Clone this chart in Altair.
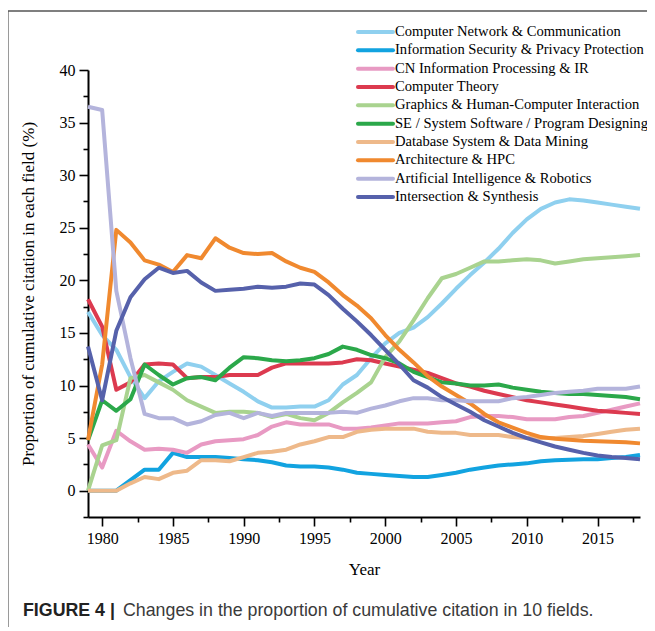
import altair as alt
import pandas as pd

years = list(range(1979, 2019))

fields = [
    "Computer Network & Communication",
    "Information Security & Privacy Protection",
    "CN Information Processing & IR",
    "Computer Theory",
    "Graphics & Human-Computer Interaction",
    "SE / System Software / Program Designing",
    "Database System & Data Mining",
    "Architecture & HPC",
    "Artificial Intelligence & Robotics",
    "Intersection & Synthesis",
]
colors = ["#8fd0ef", "#12a3e0", "#e89ac3", "#dc3a4f", "#a9d38f",
          "#2ba84a", "#eeb98a", "#f0892f", "#b4b4dc", "#5661ab"]

net = [17.0, 14.8, 13.4, 10.8, 8.8, 10.4, 11.3, 12.1, 11.8, 11.0, 10.2, 9.4, 8.5, 7.9, 7.9, 8.0, 8.0, 8.6, 10.1, 11.0,
       12.6, 14.0, 15.0, 15.5, 16.5, 17.8, 19.2, 20.5, 21.7, 23.0, 24.5, 25.8, 26.8, 27.4, 27.7, 27.6, 27.4, 27.2, 27.0, 26.8]
sec = [0, 0, 0, 1.0, 2.0, 2.0, 3.6, 3.2, 3.2, 3.2, 3.1, 3.0, 2.9, 2.7, 2.4, 2.3, 2.3, 2.2, 2.0, 1.7,
       1.6, 1.5, 1.4, 1.3, 1.3, 1.5, 1.7, 2.0, 2.2, 2.4, 2.5, 2.6, 2.8, 2.9, 2.95, 3.0, 3.0, 3.1, 3.2, 3.4]
cnip = [4.4, 2.2, 5.7, 4.7, 3.9, 4.0, 3.9, 3.6, 4.4, 4.7, 4.8, 4.9, 5.3, 6.1, 6.5, 6.3, 6.3, 6.3, 5.9, 5.9,
        6.0, 6.2, 6.4, 6.4, 6.4, 6.5, 6.6, 7.0, 7.1, 7.1, 7.0, 6.8, 6.8, 6.8, 7.0, 7.1, 7.4, 7.7, 8.0, 8.3]
theory = [18.2, 15.6, 9.6, 10.3, 12.0, 12.1, 12.0, 10.7, 10.8, 10.8, 11.0, 11.0, 11.0, 11.7, 12.1, 12.1, 12.1, 12.1, 12.2, 12.5,
          12.4, 12.1, 11.8, 11.5, 11.2, 10.7, 10.2, 9.9, 9.5, 9.2, 8.9, 8.6, 8.4, 8.2, 8.0, 7.8, 7.6, 7.5, 7.4, 7.3]
graphics = [0, 4.3, 4.8, 10.7, 11.0, 10.3, 9.6, 8.6, 8.0, 7.4, 7.5, 7.5, 7.4, 7.0, 7.3, 6.9, 6.7, 7.4, 8.4, 9.3,
            10.3, 12.7, 14.2, 16.2, 18.3, 20.2, 20.6, 21.2, 21.8, 21.8, 21.9, 22.0, 21.9, 21.6, 21.8, 22.0, 22.1, 22.2, 22.3, 22.4]
se = [4.8, 8.6, 7.6, 8.7, 12.0, 11.0, 10.1, 10.7, 10.8, 10.5, 11.7, 12.7, 12.6, 12.4, 12.3, 12.4, 12.6, 13.0, 13.7, 13.4,
      12.9, 12.6, 12.1, 11.3, 10.8, 10.3, 10.2, 10.0, 10.0, 10.1, 9.8, 9.6, 9.4, 9.3, 9.2, 9.2, 9.1, 9.0, 8.9, 8.7]
db = [0, 0, 0, 0.7, 1.3, 1.1, 1.7, 1.9, 2.9, 2.9, 2.8, 3.2, 3.6, 3.7, 3.9, 4.4, 4.7, 5.1, 5.1, 5.6,
      5.8, 5.9, 5.9, 5.9, 5.6, 5.5, 5.5, 5.3, 5.3, 5.3, 5.1, 5.0, 5.0, 5.0, 5.1, 5.2, 5.4, 5.6, 5.8, 5.9]
arch = [4.8, 12.0, 24.8, 23.6, 21.9, 21.5, 20.8, 22.4, 22.1, 24.0, 23.1, 22.6, 22.5, 22.6, 21.8, 21.2, 20.8, 19.8, 18.6, 17.6,
        16.4, 14.8, 13.4, 12.2, 10.9, 9.9, 9.1, 8.3, 7.3, 6.5, 6.0, 5.5, 5.1, 4.95, 4.85, 4.75, 4.7, 4.65, 4.6, 4.5]
ai = [36.5, 36.2, 19.0, 12.6, 7.3, 6.9, 6.9, 6.3, 6.6, 7.2, 7.4, 6.9, 7.4, 7.1, 7.4, 7.4, 7.4, 7.4, 7.5, 7.4,
      7.8, 8.1, 8.5, 8.8, 8.8, 8.6, 8.6, 8.5, 8.5, 8.5, 8.8, 8.9, 9.1, 9.3, 9.4, 9.5, 9.7, 9.7, 9.7, 9.9]
inter = [13.7, 8.6, 15.2, 18.4, 20.1, 21.2, 20.7, 20.9, 19.8, 19.0, 19.1, 19.2, 19.4, 19.3, 19.4, 19.7, 19.6, 18.6, 17.3, 16.1,
         14.8, 13.4, 12.0, 10.5, 9.8, 8.9, 8.2, 7.5, 6.7, 6.1, 5.5, 5.0, 4.6, 4.2, 3.9, 3.6, 3.35, 3.2, 3.1, 3.0]

all_series = [net, sec, cnip, theory, graphics, se, db, arch, ai, inter]

x_ticks = [1980 + 2.5 * i for i in range(16)]
y_ticks = [-2.5 + 2.5 * i for i in range(18)]

x_title = "Year"
y_title = "Proportion of cumulative citation in each field (%)"
caption_bold = "FIGURE 4 |"
caption_text = "Changes in the proportion of cumulative citation in 10 fields."

rows = []
for i, (f, vals) in enumerate(zip(fields, all_series)):
    for yr, v in zip(years, vals):
        rows.append({"Year": yr, "Field": f, "Value": v, "k": i})
df = pd.DataFrame(rows)
leg_df = pd.DataFrame({"Field": fields, "k": list(range(len(fields)))})

W, H = 552, 447
SERIF = "Liberation Serif"
SANS = "Liberation Sans"

major = "datum.value % 5 === 0"
color_scale = alt.Scale(domain=fields, range=colors)

lines = alt.Chart(df).mark_line(strokeWidth=4, strokeJoin="round", strokeCap="butt").encode(
    x=alt.X("Year:Q",
            scale=alt.Scale(domain=[1979, 2018], nice=False, zero=False),
            axis=alt.Axis(values=x_ticks, format="d",
                          labelExpr="datum.value % 5 === 0 ? datum.label : ''",
                          tickSize={"condition": {"test": major, "value": 9}, "value": 5},
                          title=x_title, titlePadding=15)),
    y=alt.Y("Value:Q",
            scale=alt.Scale(domain=[-2.5, 40], nice=False, zero=False),
            axis=alt.Axis(values=y_ticks,
                          labelExpr="datum.value % 5 === 0 ? datum.label : ''",
                          tickSize={"condition": {"test": major, "value": 9}, "value": 5},
                          title=y_title, titlePadding=22)),
    color=alt.Color("Field:N", scale=color_scale, legend=None),
    order=alt.Order("k:Q"),
)

# legend built from the category list through its own positional scale
leg_y = alt.Y("k:Q", scale=alt.Scale(domain=[0, 9], range=[-38, 127], nice=False, zero=False), axis=None)
leg_sym = alt.Chart(leg_df).mark_rule(strokeWidth=4, strokeCap="round").encode(
    x=alt.value(270), x2=alt.value(305), y=leg_y,
    color=alt.Color("Field:N", scale=color_scale, legend=None))
leg_lab = alt.Chart(leg_df).mark_text(align="left", baseline="middle", font=SERIF, fontSize=14.6,
                                      color="black").encode(
    x=alt.value(307), y=leg_y, text="Field:N")

frame_data = pd.DataFrame({"a": [0]})
left_border = alt.Chart(frame_data).mark_rule(color="#9a9a9a", strokeWidth=2).encode(
    x=alt.value(-80), y=alt.value(-59), y2=alt.value(H + 120))
top_border = alt.Chart(frame_data).mark_rule(color="#555555", strokeWidth=1.5).encode(
    x=alt.value(-80), x2=alt.value(W + 20), y=alt.value(-59))

cap_df = pd.DataFrame({"b": [caption_bold], "t": [caption_text]})
cap1 = alt.Chart(cap_df).mark_text(align="left", baseline="middle", font=SANS, fontSize=17.8,
                                   fontWeight="bold", color="#222222").encode(
    x=alt.value(-65), y=alt.value(541), text="b:N")
cap2 = alt.Chart(cap_df).mark_text(align="left", baseline="middle", font=SANS, fontSize=17.8,
                                   color="#3a3a3a").encode(
    x=alt.value(35), y=alt.value(541), text="t:N")

chart = alt.layer(lines, leg_sym, leg_lab, left_border, top_border, cap1, cap2).resolve_scale(
    y="independent"
).properties(
    width=W, height=H,
    padding={"left": 80, "top": 62, "right": 7, "bottom": 110},
    autosize=alt.AutoSizeParams(type="none"),
    background="white",
).configure_view(stroke="transparent").configure_axis(
    grid=False, domainColor="black", domainWidth=2, tickColor="black", tickWidth=1.6,
    labelFont=SERIF, labelFontSize=16, labelColor="black", labelPadding=4,
    titleFont=SERIF, titleFontSize=17, titleColor="black", titleFontWeight="normal",
)

chart.save("out.html", embed_options={"renderer": "svg", "actions": False})
